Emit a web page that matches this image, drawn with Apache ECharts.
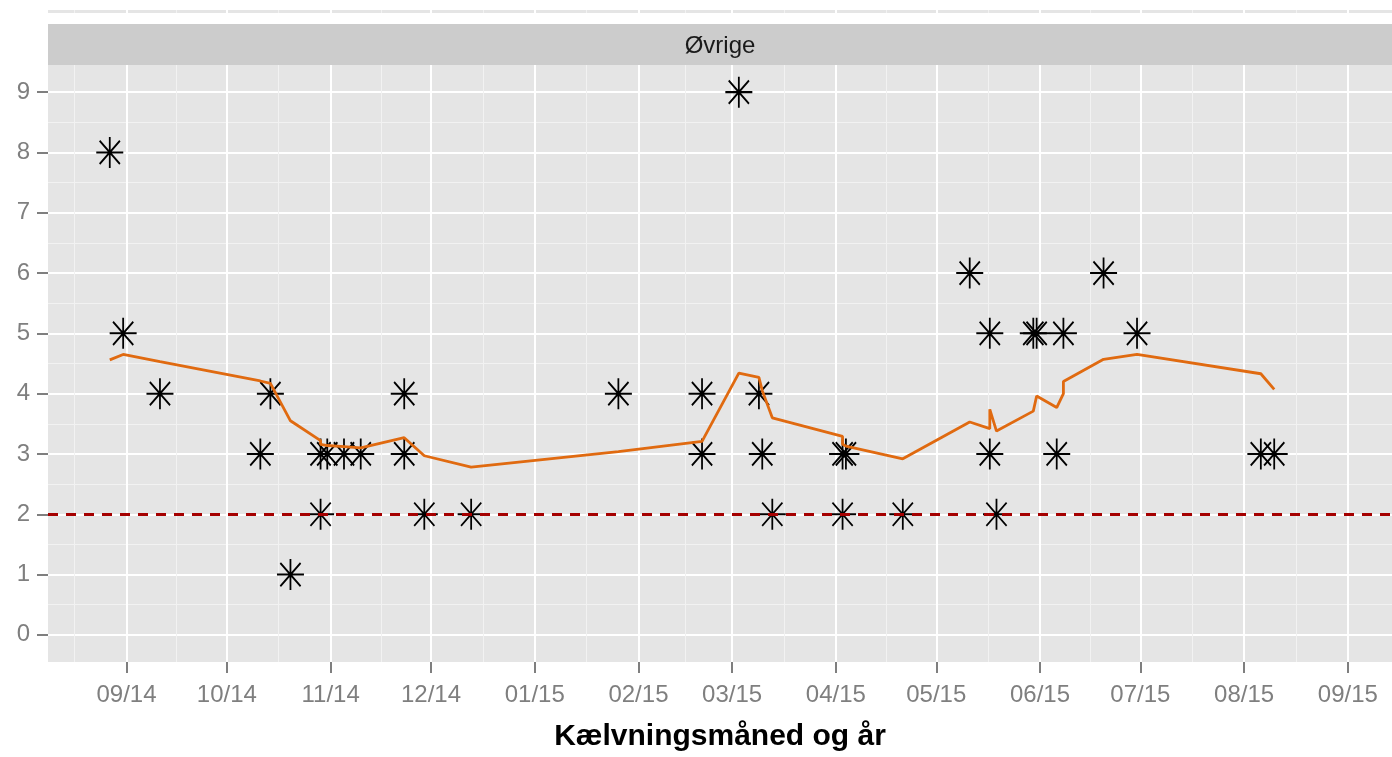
<!DOCTYPE html>
<html>
<head>
<meta charset="utf-8">
<script src="https://cdn.jsdelivr.net/npm/echarts@6.0.0/dist/echarts.min.js"></script>
<style>
html,body{margin:0;padding:0;background:#fff;}
#chart{width:1392px;height:757px;}
</style>
</head>
<body>
<div id="chart"></div>
<script>
// ---- data ----
const pointDates = ['2014-08-27','2014-08-31','2014-09-11','2014-10-11','2014-10-14','2014-10-20','2014-10-29','2014-10-29','2014-10-31','2014-11-05',
  '2014-11-10','2014-11-23','2014-11-23','2014-11-29','2014-12-13','2015-01-26','2015-02-20','2015-02-20','2015-03-03','2015-03-09',
  '2015-03-10','2015-03-13','2015-04-03','2015-04-03','2015-04-04','2015-04-21','2015-05-11','2015-05-17','2015-05-17','2015-05-19',
  '2015-05-30','2015-05-31','2015-06-06','2015-06-08','2015-06-20','2015-06-30','2015-08-06','2015-08-10'];
const pointValues = [8,5,4,3,4,1,3,2,3,3, 3,4,3,2,2,4,4,3,9,4, 3,2,3,2,3,2,6,5,3,2, 5,5,3,5,6,5,3,3];

const trendDates = ['2014-08-27','2014-08-31','2014-09-11','2014-10-11','2014-10-14','2014-10-20','2014-10-29','2014-10-29','2014-10-31','2014-11-05',
  '2014-11-10','2014-11-23','2014-11-29','2014-12-13','2015-01-26','2015-02-20','2015-03-03','2015-03-09','2015-03-10','2015-03-13',
  '2015-04-03','2015-04-03','2015-04-04','2015-04-21','2015-05-11','2015-05-17','2015-05-17','2015-05-19','2015-05-30','2015-05-31',
  '2015-06-06','2015-06-08','2015-06-08','2015-06-20','2015-06-30','2015-08-06','2015-08-10'];
const trendValues = [4.56,4.65,4.53,4.21,4.17,3.55,3.22,3.16,3.14,3.12,
  3.10,3.27,2.97,2.78,3.04,3.21,4.34,4.27,4.05,3.60,
  3.29,3.16,3.13,2.92,3.53,3.42,3.74,3.38,3.71,3.96,
  3.77,4.00,4.20,4.57,4.65,4.33,4.07];

const referenceValue = 2;

const monthStarts = ['2014-08-01','2014-09-01','2014-10-01','2014-11-01','2014-12-01','2015-01-01','2015-02-01','2015-03-01',
  '2015-04-01','2015-05-01','2015-06-01','2015-07-01','2015-08-01','2015-09-01','2015-10-01'];
const xTickDates = ['2014-09-01','2014-10-01','2014-11-01','2014-12-01','2015-01-01','2015-02-01','2015-03-01',
  '2015-04-01','2015-05-01','2015-06-01','2015-07-01','2015-08-01','2015-09-01'];
const xTickLabels = ['09/14','10/14','11/14','12/14','01/15','02/15','03/15','04/15','05/15','06/15','07/15','08/15','09/15'];
const yTicks = [0,1,2,3,4,5,6,7,8,9];
const yMinorTicks = [0.5,1.5,2.5,3.5,4.5,5.5,6.5,7.5,8.5];

const facetLabel = 'Øvrige';
const xTitle = 'Kælvningsmåned og år';

// ---- helpers ----
const DAY = 86400000;
function ts(s){ const p = s.split('-').map(Number); return Date.UTC(p[0], p[1]-1, p[2]); }
const xTicks = xTickDates.map(ts);
const ms = monthStarts.map(ts);
const xMinor = [];
for (let i = 0; i < ms.length - 1; i++) xMinor.push((ms[i] + ms[i+1]) / 2);

const xMin = ts('2014-09-01') - 23.46 * DAY;
const xMax = ts('2014-09-01') + 378.2 * DAY;

const FONT = "'Liberation Sans', Arial, sans-serif";
const GREY = '#7F7F7F';

const points = pointDates.map((d, i) => [ts(d), pointValues[i]]);
const trend = trendDates.map((d, i) => [ts(d), trendValues[i]]);

const asterisk = 'path://M50,0L50,100M0,50L100,50M12.5,12.5L87.5,87.5M87.5,12.5L12.5,87.5';

function labelFor(v){
  let best = -1, bd = Infinity;
  for (let i = 0; i < xTicks.length; i++) { const d = Math.abs(xTicks[i] - v); if (d < bd) { bd = d; best = i; } }
  return bd < DAY ? xTickLabels[best] : '';
}

const chart = echarts.init(document.getElementById('chart'), null, {renderer: 'canvas'});
const option = {
  animation: false,
  backgroundColor: '#fff',
  grid: [
    {left: 48, right: 0, top: 65, bottom: 95, show: true, backgroundColor: '#E5E5E5', borderWidth: 0, containLabel: false, outerBoundsMode: 'none'},
    {left: 48, right: 0, top: 10, height: 3, show: true, backgroundColor: '#E5E5E5', borderWidth: 0, containLabel: false, outerBoundsMode: 'none'}
  ],
  xAxis: [
    {
      type: 'value', gridIndex: 0, min: xMin, max: xMax, scale: true, position: 'bottom',
      axisLine: {show: false, onZero: false},
      axisTick: {show: true, customValues: xTicks, length: 11, lineStyle: {color: GREY, width: 2}},
      axisLabel: {show: true, customValues: xTicks, formatter: labelFor, color: GREY, fontSize: 24, fontFamily: FONT, margin: 21},
      splitLine: {show: true, lineStyle: {color: '#FFFFFF', width: 2}},
      name: xTitle, nameLocation: 'middle', nameGap: 60, nameMoveOverlap: false,
      nameTextStyle: {color: '#000', fontSize: 30, fontWeight: 'bold', fontFamily: FONT}
    },
    {
      type: 'value', gridIndex: 0, min: xMin, max: xMax, scale: true,
      axisLine: {show: false, onZero: false}, axisLabel: {show: false},
      axisTick: {show: false, customValues: xMinor},
      splitLine: {show: true, lineStyle: {color: '#F2F2F2', width: 1}}
    },
    {
      type: 'value', gridIndex: 1, min: xMin, max: xMax, scale: true,
      axisLine: {show: false, onZero: false}, axisLabel: {show: false},
      axisTick: {show: false, customValues: xTicks},
      splitLine: {show: true, lineStyle: {color: '#FFFFFF', width: 2}}
    },
    {
      type: 'value', gridIndex: 1, min: xMin, max: xMax, scale: true,
      axisLine: {show: false, onZero: false}, axisLabel: {show: false},
      axisTick: {show: false, customValues: xMinor},
      splitLine: {show: true, lineStyle: {color: '#F2F2F2', width: 1}}
    }
  ],
  yAxis: [
    {
      type: 'value', gridIndex: 0, min: -0.45, max: 9.45, position: 'left',
      axisLine: {show: false, onZero: false},
      axisTick: {show: true, customValues: yTicks, length: 11, lineStyle: {color: GREY, width: 2}},
      axisLabel: {show: true, customValues: yTicks, color: GREY, fontSize: 24, fontFamily: FONT, margin: 18},
      splitLine: {show: true, lineStyle: {color: '#FFFFFF', width: 2}}
    },
    {
      type: 'value', gridIndex: 0, min: -0.45, max: 9.45,
      axisLine: {show: false, onZero: false}, axisLabel: {show: false},
      axisTick: {show: false, customValues: yMinorTicks},
      splitLine: {show: true, lineStyle: {color: '#F2F2F2', width: 1}}
    },
    {
      type: 'value', gridIndex: 1, min: 0, max: 1,
      axisLine: {show: false, onZero: false}, axisLabel: {show: false}, axisTick: {show: false}, splitLine: {show: false}
    }
  ],
  graphic: [
    {type: 'rect', left: 48, top: 24, shape: {width: 1344, height: 41}, style: {fill: '#CCCCCC'}, z: 0, silent: true},
    {type: 'text', x: 720, y: 46, style: {text: facetLabel, fill: '#1A1A1A', fontSize: 24, fontFamily: FONT, align: 'center', verticalAlign: 'middle'}, z: 1, silent: true}
  ],
  series: [
    {
      type: 'scatter', xAxisIndex: 0, yAxisIndex: 0, data: points,
      symbol: asterisk, symbolSize: [27, 31],
      itemStyle: {color: 'rgba(0,0,0,0)', borderColor: '#000', borderWidth: 1.9, opacity: 1},
      emphasis: {disabled: true}, silent: true, z: 3
    },
    {
      type: 'line', xAxisIndex: 0, yAxisIndex: 0, data: trend,
      showSymbol: false, symbol: 'none',
      lineStyle: {color: '#E06A10', width: 2.8},
      emphasis: {disabled: true}, silent: true, z: 4,
      markLine: {
        silent: true, symbol: ['none', 'none'],
        label: {show: false},
        lineStyle: {color: '#A50000', width: 3, type: [10, 8]},
        emphasis: {disabled: true},
        data: [{yAxis: referenceValue}]
      }
    }
  ]
};
chart.setOption(option);
</script>
</body>
</html>
